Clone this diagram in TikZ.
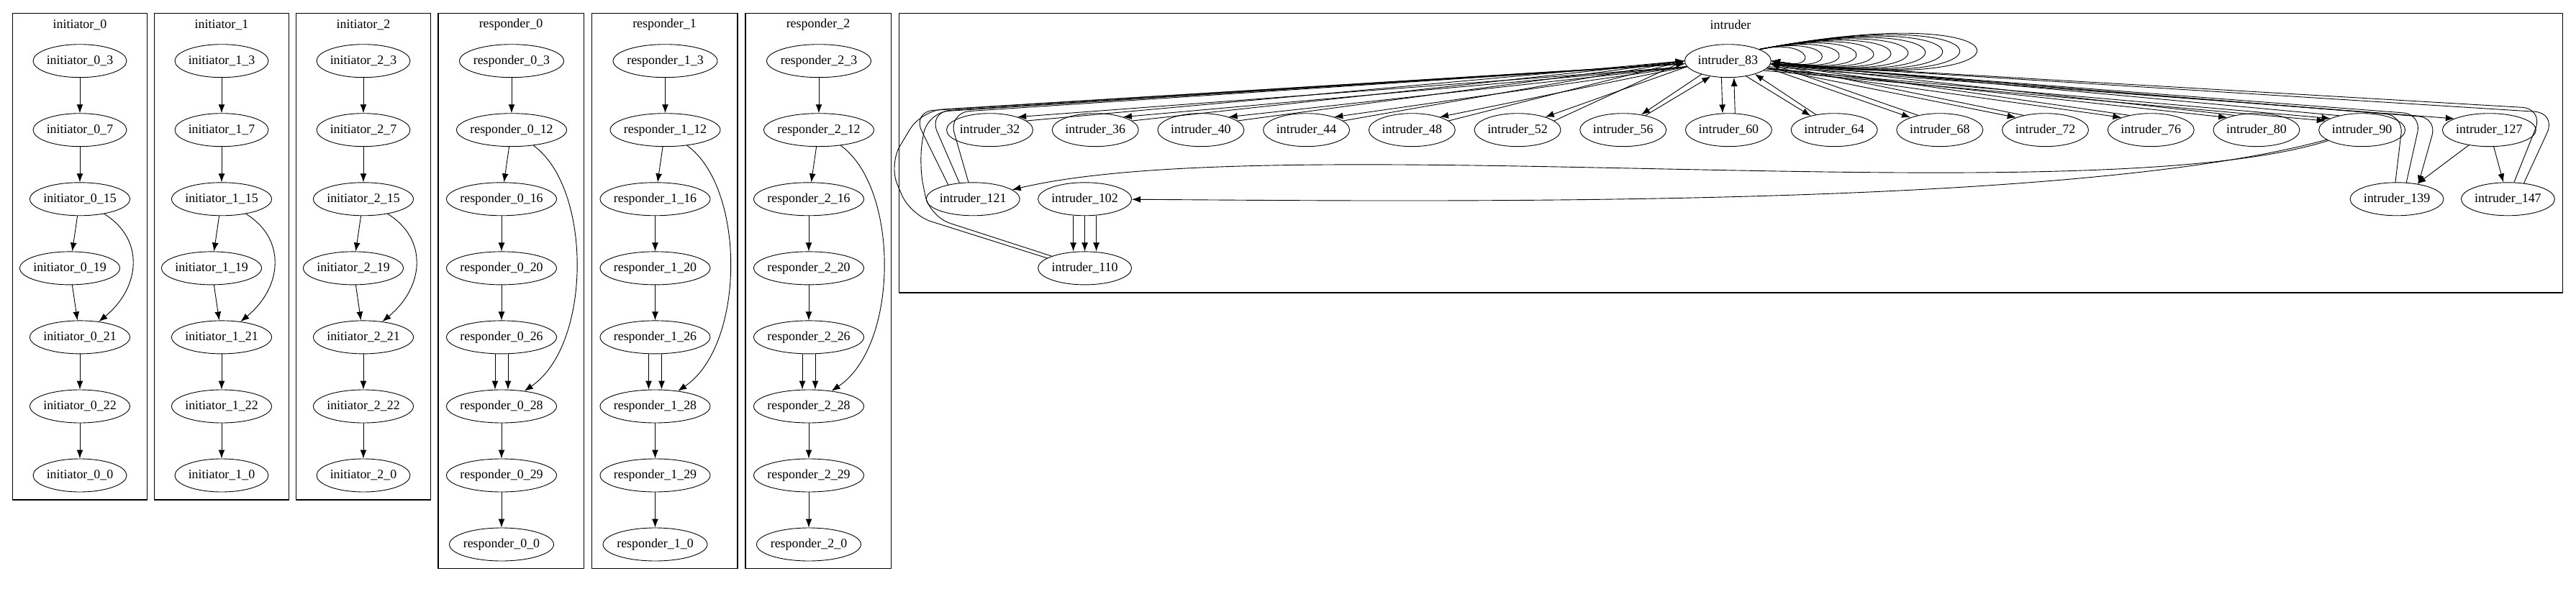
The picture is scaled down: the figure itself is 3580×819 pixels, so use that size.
\documentclass[tikz,border=0pt]{standalone}
\usepackage{fontspec}
\setmainfont{Liberation Serif}
\usetikzlibrary{arrows.meta, shapes.geometric}
\tikzset{>=latex}
\tikzset{clu/.style={draw, line width=1.2pt}}
\tikzset{ttl/.style={font=\fontsize{17.9}{21}\selectfont}}
\tikzset{st/.style={draw, ellipse, line width=0.9pt, inner xsep=-8pt, inner ysep=0pt, minimum height=46pt, font=\fontsize{17.9}{21}\selectfont}}
\tikzset{ia/.style={st, minimum width=130pt}}
\tikzset{ib/.style={st, minimum width=139pt}}
\tikzset{ra/.style={st, minimum width=145pt}}
\tikzset{rb/.style={st, minimum width=153pt}}
\tikzset{xa/.style={st, minimum width=120pt}}
\tikzset{xb/.style={st, minimum width=130pt}}
\tikzset{arr/.style={line width=0.9pt, -{Latex[length=12pt, width=9pt]}}}
\tikzset{rarr/.style={line width=0.9pt, {Latex[length=12pt, width=9pt]}-}}
\newcommand{\initiator}[2]{% #1 index, #2 column x
	\draw[clu] (#2-93.5,18.3) rectangle (#2+93.5,695);
	\node[ttl] (ti#1) at (#2,34.5) {initiator\_#1};
	\node[ia] (i#1_3) at (#2,84.7) {initiator\_#1\_3};
	\node[ia] (i#1_7) at (#2,180.7) {initiator\_#1\_7};
	\node[ib] (i#1_15) at (#2,276.8) {initiator\_#1\_15};
	\node[ib] (i#1_19) at (#2-14,372.9) {initiator\_#1\_19};
	\node[ib] (i#1_21) at (#2,468.9) {initiator\_#1\_21};
	\node[ib] (i#1_22) at (#2,565) {initiator\_#1\_22};
	\node[ia] (i#1_0) at (#2,661) {initiator\_#1\_0};
	%
	\draw[arr] (i#1_3) -- (i#1_7);
	\draw[arr] (i#1_7) -- (i#1_15);
	\draw[arr] (i#1_15) -- (i#1_19);
	\draw[arr] (i#1_19) -- (i#1_21);
	\draw[arr] (i#1_15) .. controls +(90,55) and +(85,-70) .. (i#1_21);
	\draw[arr] (i#1_21) -- (i#1_22);
	\draw[arr] (i#1_22) -- (i#1_0);
}
\newcommand{\responder}[2]{% #1 index, #2 column x
	\draw[clu] (#2-88,18.3) rectangle (#2+114.5,790.3);
	\node[ttl] (tr#1) at (#2+13,34.5) {responder\_#1};
	\node[ra] (r#1_3) at (#2+14,84.7) {responder\_#1\_3};
	\node[rb] (r#1_12) at (#2+14,180.7) {responder\_#1\_12};
	\node[rb] (r#1_16) at (#2,276.8) {responder\_#1\_16};
	\node[rb] (r#1_20) at (#2,372.9) {responder\_#1\_20};
	\node[rb] (r#1_26) at (#2,468.9) {responder\_#1\_26};
	\node[rb] (r#1_28) at (#2,565) {responder\_#1\_28};
	\node[rb] (r#1_29) at (#2,661) {responder\_#1\_29};
	\node[ra] (r#1_0) at (#2,757) {responder\_#1\_0};
	%
	\draw[arr] (r#1_3) -- (r#1_12);
	\draw[arr] (r#1_12) -- (r#1_16);
	\draw[arr] (r#1_12) .. controls +(112,80) and +(126,-85) .. (r#1_28);
	\draw[arr] (r#1_16) -- (r#1_20);
	\draw[arr] (r#1_20) -- (r#1_26);
	\draw[arr] ([xshift=-9pt]r#1_26.south) -- ([xshift=-9pt]r#1_28.north);
	\draw[arr] ([xshift=9pt]r#1_26.south) -- ([xshift=9pt]r#1_28.north);
	\draw[arr] (r#1_28) -- (r#1_29);
	\draw[arr] (r#1_29) -- (r#1_0);
}

\begin{document}
\begin{tikzpicture}[x=1pt, y=-1pt, line cap=round, line join=round]

	\path[use as bounding box, fill=white] (0,0) rectangle (3580,819);

	% Initiators
	\initiator{0}{111}
	\initiator{1}{308}
	\initiator{2}{505}

	% Responders
	\responder{0}{697}
	\responder{1}{910.5}
	\responder{2}{1124}

	% Intruder cluster
	\draw[clu] (1249.2,18.3) rectangle (3561.1,407);
	\node[ttl] (tx) at (2405,34.5) {intruder};

	\node[xa] (x83) at (2401.3,84.7) {intruder\_83};
	\foreach \n [count=\k from 0] in {32,36,40,44,48,52,56,60,64,68,72,76,80,90}
		\node[xa] (x\n) at (1375.5+146.7*\k,180.7) {intruder\_\n};
	\node[xb] (x127) at (3459.3,180.7) {intruder\_127};
	\node[xb] (x121) at (1352.2,276.8) {intruder\_121};
	\node[xb] (x102) at (1507.6,276.8) {intruder\_102};
	\node[xb] (x139) at (3331,276.8) {intruder\_139};
	\node[xb] (x147) at (3485.4,276.8) {intruder\_147};
	\node[xb] (x110) at (1507.6,372.9) {intruder\_110};

	% Out and back to the left
	\foreach \n in {32,36,...,52}
	{
		\draw[arr] (x83.188) -- (x\n.25);
		\draw[arr] (x\n.14) -- (x83.180);
	}
	\draw[arr] (x83.207) -- (x56.40);
	\draw[arr] (x56.33) -- (x83.222);
	\draw[arr] (x83.249.5) -- (x60.110.5);
	\draw[arr] (x60.69.3) -- (x83.290.7);
	\draw[arr] (x83.320.5) -- (x64.149);
	\draw[arr] (x64.140) -- (x83.334);

	% Out and back to the right
	\foreach \n in {68,72,76,80}
	{
		\draw[arr] (x83.350) -- (x\n.157);
		\draw[arr] (x\n.146) -- (x83.356);
	}
	\draw[arr] (x83.348) -- (x90.160);
	\draw[arr] (x83.345) -- (x90.166);
	\draw[arr] (x90.148) -- (x83.357);
	\draw[arr] (x83.352) -- (x127.162);

	% Self loops
	\foreach \r in {1,...,11}
		\draw[arr] (x83.20) .. controls +({70+32*(\r-1)},{-(10+6*\r)}) and +({70+32*(\r-1)},{10+4*\r}) .. (x83.east);

	% Long edges from intruder_90
	\draw[arr] (x90) .. controls +(-380,120) and +(427.8,-101.8) .. (x121);
	\draw[arr] (x90) .. controls +(-400,110) and +(492.4,3.2) .. (x102);

	% intruder_102 to intruder_110
	\foreach \s in {-16,0,16}
		\draw[arr] ([xshift=\s pt]x102.south) -- ([xshift=\s pt]x110.north);

	% Back to intruder_83 from the left
	\draw[arr, rounded corners=30pt] (x121.150) -- ++(-50,-101.7) -- (x83);
	\draw[arr, rounded corners=30pt] (x121.130) -- ++(-43,-99) -- (x83);
	\draw[arr, rounded corners=30pt] (x121.105) -- ++(-28,-97) -- (x83);
	\draw[arr, rounded corners=30pt] (x110.165) -- ++(-190,-60) -- ++(-30,-70) -- ++(45,-75) -- (x83);
	\draw[arr, rounded corners=30pt] (x110.160) -- ++(-170,-55) -- ++(-15,-75) -- ++(12,-70) -- (x83);

	% Right end
	\draw[arr] (x127) -- (x139);
	\draw[arr] (x127) -- (x147);
	\draw[rarr, rounded corners=25pt] (x139.35) -- ++(26,-92) -- (x83);
	\draw[arr, rounded corners=25pt] (x139.95) -- ++(11,-93) -- (x83);
	\draw[arr, rounded corners=25pt] (x139.60) -- ++(21,-95) -- (x83);
	\draw[arr, rounded corners=30pt] (x147.70) -- ++(41,-102.5) -- (x83);
	\draw[arr, rounded corners=30pt] (x147.45) -- ++(45,-97.6) -- (x83);
\end{tikzpicture}
\end{document}
